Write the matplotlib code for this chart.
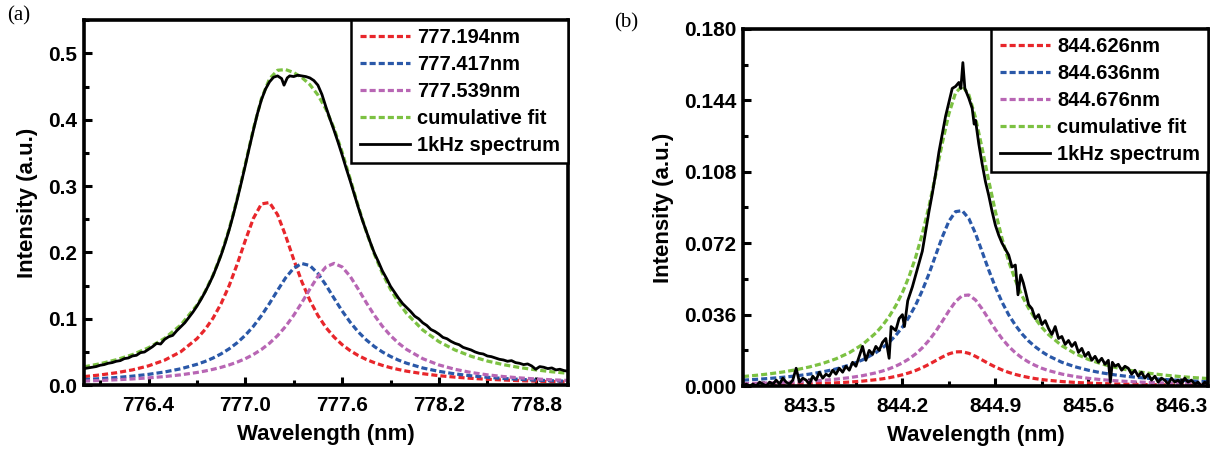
import numpy as np
import matplotlib
matplotlib.use("Agg")
import matplotlib.pyplot as plt
from matplotlib.ticker import MultipleLocator, FormatStrFormatter

plt.rcParams["font.family"] = ["Liberation Sans", "DejaVu Sans"]
plt.rcParams["font.weight"] = "bold"

# ---------------- panel (a): fitted components, 776-779 nm ----------------
wl_a = [776.0, 776.1, 776.2, 776.3, 776.4, 776.5, 776.6, 776.7, 776.75, 776.8,
        776.85, 776.9, 776.95, 777.0, 777.05, 777.1, 777.15, 777.2, 777.25, 777.3,
        777.35, 777.4, 777.45, 777.5, 777.55, 777.6, 777.65, 777.7, 777.75, 777.8,
        777.85, 777.9, 777.95, 778.0, 778.1, 778.2, 778.3, 778.4, 778.5, 778.6,
        778.7, 778.8, 778.9, 779.0]
red_a = [0.0129, 0.0154, 0.0187, 0.0230, 0.0291, 0.0377, 0.0504, 0.0700, 0.0837, 0.101,
         0.1229, 0.150, 0.1825, 0.218, 0.2513, 0.2731, 0.2752, 0.2569, 0.2251, 0.1894,
         0.1561, 0.1279, 0.1050, 0.0868, 0.0725, 0.0611, 0.0520, 0.0447, 0.0387, 0.0339,
         0.0298, 0.0264, 0.0236, 0.0211, 0.0173, 0.0143, 0.0121, 0.0103, 0.0089, 0.0078,
         0.0068, 0.0061, 0.0054, 0.0049]
blue_a = [0.0085, 0.0098, 0.0115, 0.0136, 0.0163, 0.0199, 0.0247, 0.0314, 0.0357, 0.0409,
          0.0472, 0.0548, 0.0640, 0.0752, 0.0887, 0.1048, 0.1232, 0.1429, 0.1618, 0.1764,
          0.1833, 0.1803, 0.1683, 0.1507, 0.1310, 0.1119, 0.0949, 0.0803, 0.0682, 0.0582,
          0.0500, 0.0433, 0.0377, 0.0331, 0.0259, 0.0208, 0.0170, 0.0141, 0.0119, 0.0101,
          0.0088, 0.0076, 0.0067, 0.0059]
purple_a = [0.0062, 0.0071, 0.0081, 0.0094, 0.0110, 0.0130, 0.0156, 0.0191, 0.0213, 0.0239,
            0.0269, 0.0305, 0.0348, 0.0399, 0.0462, 0.0538, 0.0632, 0.0747, 0.0886, 0.1053,
            0.1243, 0.1447, 0.1640, 0.1782, 0.1835, 0.1782, 0.1640, 0.1447, 0.1243, 0.1053,
            0.0886, 0.0747, 0.0632, 0.0538, 0.0399, 0.0305, 0.0239, 0.0191, 0.0156, 0.0130,
            0.0110, 0.0094, 0.0081, 0.0071]
cumul_a = [0.0276, 0.0323, 0.0383, 0.0460, 0.0564, 0.0706, 0.0907, 0.1205, 0.1407, 0.1658,
           0.1970, 0.2353, 0.2813, 0.3331, 0.3862, 0.4317, 0.4616, 0.4745, 0.4755, 0.4711,
           0.4637, 0.4529, 0.4373, 0.4157, 0.3870, 0.3512, 0.3109, 0.2697, 0.2312, 0.1974,
           0.1684, 0.1444, 0.1245, 0.1080, 0.0831, 0.0656, 0.0530, 0.0435, 0.0364, 0.0309,
           0.0266, 0.0231, 0.0202, 0.0179]

spec_x_a = [776.0, 776.025, 776.05, 776.075, 776.1, 776.125, 776.15, 776.175, 776.2, 776.225,
            776.25, 776.275, 776.3, 776.325, 776.35, 776.375, 776.4, 776.425, 776.45, 776.475,
            776.5, 776.525, 776.55, 776.575, 776.6, 776.625, 776.65, 776.675, 776.7, 776.725,
            776.75, 776.775, 776.8, 776.825, 776.85, 776.875, 776.9, 776.925, 776.95, 776.975,
            777.0, 777.025, 777.05, 777.075, 777.1, 777.125, 777.15, 777.175, 777.2, 777.225,
            777.24, 777.26, 777.275, 777.3, 777.325, 777.35, 777.375, 777.4, 777.425, 777.45,
            777.475, 777.5, 777.525, 777.55, 777.575, 777.6, 777.625, 777.65, 777.675, 777.7,
            777.725, 777.75, 777.775, 777.8, 777.825, 777.85, 777.875, 777.9, 777.925, 777.95,
            777.975, 778.0, 778.025, 778.05, 778.075, 778.1, 778.125, 778.15, 778.175, 778.2,
            778.225, 778.25, 778.275, 778.3, 778.325, 778.35, 778.375, 778.4, 778.425, 778.45,
            778.475, 778.5, 778.525, 778.55, 778.575, 778.6, 778.625, 778.65, 778.675, 778.7,
            778.725, 778.75, 778.775, 778.8, 778.825, 778.85, 778.875, 778.9, 778.925, 778.95,
            778.975, 779.0]
spec_a = [0.025, 0.026, 0.027, 0.028, 0.030, 0.031, 0.033, 0.034, 0.036, 0.037,
          0.040, 0.041, 0.044, 0.045, 0.049, 0.050, 0.054, 0.058, 0.063, 0.062,
          0.069, 0.073, 0.075, 0.082, 0.088, 0.094, 0.102, 0.110, 0.119, 0.129,
          0.140, 0.152, 0.165, 0.180, 0.196, 0.214, 0.234, 0.256, 0.280, 0.305,
          0.331, 0.358, 0.384, 0.409, 0.430, 0.446, 0.457, 0.464, 0.466, 0.462,
          0.452, 0.463, 0.466, 0.465, 0.467, 0.466, 0.465, 0.463, 0.459, 0.452,
          0.438, 0.419, 0.401, 0.384, 0.366, 0.347, 0.327, 0.308, 0.288, 0.268,
          0.249, 0.232, 0.215, 0.199, 0.186, 0.172, 0.161, 0.149, 0.140, 0.131,
          0.123, 0.117, 0.111, 0.104, 0.100, 0.094, 0.090, 0.084, 0.081, 0.077,
          0.072, 0.070, 0.066, 0.063, 0.061, 0.057, 0.055, 0.053, 0.050, 0.048,
          0.047, 0.044, 0.043, 0.041, 0.039, 0.038, 0.036, 0.037, 0.034, 0.033,
          0.031, 0.032, 0.029, 0.024, 0.028, 0.027, 0.025, 0.026, 0.023, 0.024,
          0.022, 0.021]
labels_a = ["777.194nm", "777.417nm", "777.539nm", "cumulative fit", "1kHz spectrum"]

# ---------------- panel (b): fitted components, 843-846.5 nm ----------------
wl_b = [843.0, 843.1, 843.2, 843.3, 843.4, 843.5, 843.6, 843.7, 843.8, 843.9,
        844.0, 844.05, 844.1, 844.15, 844.2, 844.25, 844.3, 844.35, 844.4, 844.45,
        844.5, 844.55, 844.6, 844.65, 844.7, 844.75, 844.8, 844.85, 844.9, 844.95,
        845.0, 845.05, 845.1, 845.15, 845.2, 845.25, 845.3, 845.4, 845.5, 845.6,
        845.7, 845.8, 845.9, 846.0, 846.1, 846.2, 846.3, 846.4, 846.5]
red_b = [0.00057, 0.00064, 0.00073, 0.00084, 0.00098, 0.00115, 0.00136, 0.00164, 0.00201, 0.00251,
         0.00322, 0.00367, 0.00422, 0.00489, 0.0057, 0.00668, 0.00787, 0.0093, 0.01096, 0.0128,
         0.01465, 0.01624, 0.01723, 0.01732, 0.0165, 0.0150, 0.01317, 0.01131, 0.00961, 0.00814,
         0.0069, 0.00588, 0.00504, 0.00435, 0.00377, 0.0033, 0.00291, 0.00229, 0.00185, 0.00152,
         0.00127, 0.00107, 0.00092, 0.0008, 0.0007, 0.00061, 0.00054, 0.00049, 0.00044]
blue_b = [0.0030, 0.00339, 0.00386, 0.00444, 0.00514, 0.00603, 0.00716, 0.00862, 0.01056, 0.0132,
          0.01686, 0.01923, 0.02209, 0.02554, 0.02972, 0.0348, 0.0409, 0.0482, 0.0566, 0.0659,
          0.0751, 0.0831, 0.0879, 0.0884, 0.0844, 0.0769, 0.0677, 0.0584, 0.0498, 0.0423,
          0.0359, 0.0307, 0.0263, 0.0227, 0.0198, 0.0173, 0.0152, 0.0120, 0.00972, 0.00799,
          0.00667, 0.00565, 0.00484, 0.00419, 0.00366, 0.00323, 0.00287, 0.00256, 0.0023]
purple_b = [0.00125, 0.0014, 0.00159, 0.00182, 0.00211, 0.00246, 0.0029, 0.00348, 0.00424, 0.00526,
            0.00668, 0.0076, 0.00871, 0.01006, 0.0117, 0.01373, 0.01622, 0.0193, 0.02305, 0.0275,
            0.0326, 0.0379, 0.0426, 0.0456, 0.0459, 0.0434, 0.0389, 0.0337, 0.0285, 0.0239,
            0.0200, 0.0168, 0.0142, 0.0121, 0.0104, 0.00896, 0.00781, 0.00606, 0.00481, 0.00391,
            0.00323, 0.00271, 0.00231, 0.00199, 0.00173, 0.00151, 0.00134, 0.00119, 0.00107]
cumul_b = [0.00482, 0.00543, 0.00618, 0.0071, 0.00823, 0.00964, 0.01142, 0.01374, 0.01681, 0.02097,
           0.02676, 0.0305, 0.03502, 0.04049, 0.04712, 0.05521, 0.06499, 0.0768, 0.09061, 0.1062,
           0.12235, 0.13724, 0.14773, 0.15132, 0.1468, 0.1353, 0.11977, 0.10341, 0.08791, 0.07434,
           0.0628, 0.05338, 0.04554, 0.03915, 0.03397, 0.02956, 0.02592, 0.02035, 0.01638, 0.01342,
           0.01117, 0.00943, 0.00807, 0.00698, 0.00609, 0.00535, 0.00475, 0.00424, 0.00381]

spec_x_b = [843.0, 843.025, 843.05, 843.075, 843.1, 843.125, 843.15, 843.175, 843.2, 843.225,
            843.25, 843.275, 843.3, 843.325, 843.35, 843.375, 843.4, 843.425, 843.45, 843.475,
            843.5, 843.525, 843.55, 843.575, 843.6, 843.625, 843.65, 843.675, 843.7, 843.725,
            843.75, 843.775, 843.8, 843.825, 843.85, 843.875, 843.9, 843.925, 843.95, 843.975,
            844.0, 844.025, 844.05, 844.075, 844.1, 844.115, 844.15, 844.175, 844.2, 844.215,
            844.24, 844.275, 844.3, 844.325, 844.35, 844.375, 844.4, 844.425, 844.45, 844.475,
            844.5, 844.525, 844.55, 844.575, 844.6, 844.625, 844.64, 844.655, 844.67, 844.7,
            844.725, 844.74, 844.75, 844.775, 844.8, 844.825, 844.85, 844.875, 844.9, 844.925,
            844.95, 844.975, 845.0, 845.025, 845.05, 845.07, 845.09, 845.11, 845.125, 845.15,
            845.175, 845.2, 845.225, 845.25, 845.275, 845.3, 845.325, 845.35, 845.375, 845.4,
            845.425, 845.45, 845.475, 845.5, 845.525, 845.55, 845.575, 845.6, 845.625, 845.65,
            845.675, 845.7, 845.725, 845.75, 845.765, 845.78, 845.8, 845.825, 845.85, 845.875,
            845.9, 845.925, 845.95, 845.975, 846.0, 846.025, 846.05, 846.075, 846.1, 846.125,
            846.15, 846.175, 846.2, 846.225, 846.25, 846.275, 846.3, 846.325, 846.35, 846.375,
            846.4, 846.425, 846.45, 846.475, 846.5]
spec_b = [0.000, 0.001, 0.000, 0.001, 0.000, 0.002, 0.001, 0.000, 0.002, 0.001,
          0.003, 0.001, 0.004, 0.002, 0.001, 0.003, 0.009, 0.002, 0.004, 0.003,
          0.001, 0.005, 0.003, 0.007, 0.004, 0.006, 0.005, 0.008, 0.006, 0.009,
          0.007, 0.010, 0.008, 0.012, 0.010, 0.015, 0.020, 0.013, 0.018, 0.016,
          0.020, 0.018, 0.022, 0.024, 0.014, 0.030, 0.028, 0.034, 0.036, 0.030,
          0.043, 0.050, 0.056, 0.062, 0.068, 0.078, 0.088, 0.097, 0.107, 0.118,
          0.127, 0.136, 0.143, 0.150, 0.151, 0.153, 0.150, 0.163, 0.150, 0.145,
          0.140, 0.132, 0.134, 0.122, 0.112, 0.103, 0.096, 0.088, 0.081, 0.076,
          0.072, 0.069, 0.066, 0.060, 0.061, 0.046, 0.056, 0.052, 0.048, 0.041,
          0.039, 0.034, 0.036, 0.031, 0.033, 0.029, 0.026, 0.030, 0.024, 0.025,
          0.021, 0.023, 0.020, 0.022, 0.017, 0.019, 0.015, 0.017, 0.013, 0.015,
          0.012, 0.014, 0.011, 0.013, 0.002, 0.012, 0.010, 0.011, 0.008, 0.010,
          0.009, 0.006, 0.008, 0.005, 0.007, 0.004, 0.006, 0.003, 0.005, 0.002,
          0.004, 0.003, 0.001, 0.004, 0.002, 0.003, 0.001, 0.004, 0.002, 0.003,
          0.001, 0.002, 0.000, 0.002, 0.001]
labels_b = ["844.626nm", "844.636nm", "844.676nm", "cumulative fit", "1kHz spectrum"]

c_red = "#e8262b"
c_blue = "#2a58a8"
c_purple = "#b866b4"
c_green = "#7cc142"
dash = (0, (1.9, 0.95))


def draw_panel(ax, wl, comps, cumul, sx, sy, labels):
    for y, c, lab in zip(comps, [c_red, c_blue, c_purple], labels[:3]):
        ax.plot(wl, y, color=c, lw=2.3, linestyle=dash, label=lab)
    ax.plot(wl, cumul, color=c_green, lw=2.3, linestyle=dash, label=labels[3])
    ax.plot(sx, sy, color="black", lw=2.0, label=labels[4])
    for sp in ax.spines.values():
        sp.set_linewidth(2.6)
    ax.tick_params(which="both", direction="in", labelsize=15, width=2.2)
    ax.tick_params(axis="x", which="major", length=6, pad=8)
    ax.tick_params(axis="y", which="major", length=6, pad=5)
    ax.tick_params(which="minor", length=3.5)
    ax.set_xlabel("Wavelength (nm)", fontsize=16, fontweight="bold", labelpad=6)
    ax.set_ylabel("Intensity (a.u.)", fontsize=16, fontweight="bold", labelpad=7)
    leg = ax.legend(loc="upper right", borderaxespad=0, fontsize=14.5, handlelength=2.5,
                    handletextpad=0.35, labelspacing=0.4, borderpad=0.4,
                    fancybox=False, framealpha=1, edgecolor="black")
    leg.get_frame().set_linewidth(1.8)
    for t in leg.get_texts():
        t.set_fontweight("bold")


fig = plt.figure(figsize=(12.17, 4.58), dpi=100)

ax1 = fig.add_axes([0.0690, 0.159, 0.3977, 0.797])
draw_panel(ax1, wl_a, [red_a, blue_a, purple_a], cumul_a, spec_x_a, spec_a, labels_a)
ax1.set_xlim(776.0, 779.0)
ax1.set_ylim(0, 0.55)
ax1.set_xticks([776.4, 777.0, 777.6, 778.2, 778.8])
ax1.xaxis.set_minor_locator(MultipleLocator(0.3))
ax1.set_yticks([0.0, 0.1, 0.2, 0.3, 0.4, 0.5])
ax1.yaxis.set_minor_locator(MultipleLocator(0.05))
ax1.yaxis.set_major_formatter(FormatStrFormatter("%.1f"))

ax2 = fig.add_axes([0.6105, 0.157, 0.3821, 0.780])
draw_panel(ax2, wl_b, [red_b, blue_b, purple_b], cumul_b, spec_x_b, spec_b, labels_b)
ax2.set_xlim(843.0, 846.5)
ax2.set_ylim(0, 0.18)
ax2.set_xticks([843.5, 844.2, 844.9, 845.6, 846.3])
ax2.set_xticks([843.15, 843.85, 844.55, 845.25, 845.95], minor=True)
ax2.set_yticks([0.0, 0.036, 0.072, 0.108, 0.144, 0.18])
ax2.yaxis.set_minor_locator(MultipleLocator(0.018))
ax2.yaxis.set_major_formatter(FormatStrFormatter("%.3f"))

fig.text(0.006, 0.955, "(a)", fontsize=15, family="Liberation Serif", fontweight="normal")
fig.text(0.505, 0.94, "(b)", fontsize=15, family="Liberation Serif", fontweight="normal")

fig.savefig("out.png", dpi=100)
